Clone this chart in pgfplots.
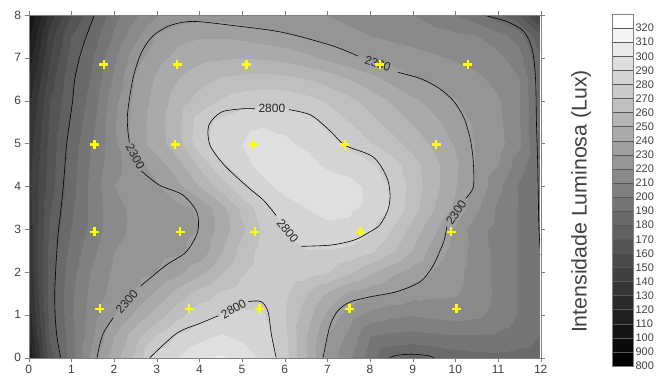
\documentclass[border=0pt]{standalone}
\usepackage{fontspec}
\setmainfont{Liberation Sans}
\usepackage{pgfplots}
\pgfplotsset{compat=1.18}
\usepackage{pgfplotstable}

\pgfplotstableread[row sep=\\]{
x y z\\
0 0 1100\\ 0.5 0 1650\\ 1 0 1950\\ 1.5 0 2250\\ 2 0 2450\\ 2.5 0 2620\\ 3 0 2860\\ 3.5 0 2900\\ 4 0 2980\\ 4.5 0 3020\\ 5 0 2960\\ 5.5 0 2880\\ 6 0 2740\\ 6.5 0 2500\\ 7 0 2270\\ 7.5 0 2120\\ 8 0 1950\\ 8.5 0 1800\\ 9 0 1780\\ 9.5 0 1800\\ 10 0 1840\\ 10.5 0 1860\\ 11 0 1870\\ 11.5 0 1860\\ 12 0 1850\\
0 0.5 1200\\ 0.5 0.5 1720\\ 1 0.5 1960\\ 1.5 0.5 2190\\ 2 0.5 2400\\ 2.5 0.5 2560\\ 3 0.5 2710\\ 3.5 0.5 2815\\ 4 0.5 2870\\ 4.5 0.5 2910\\ 5 0.5 2880\\ 5.5 0.5 2850\\ 6 0.5 2720\\ 6.5 0.5 2500\\ 7 0.5 2300\\ 7.5 0.5 2170\\ 8 0.5 2000\\ 8.5 0.5 1975\\ 9 0.5 1965\\ 9.5 0.5 1980\\ 10 0.5 1990\\ 10.5 0.5 1990\\ 11 0.5 1980\\ 11.5 0.5 1950\\ 12 0.5 1890\\
0 1 1250\\ 0.5 1 1740\\ 1 1 1980\\ 1.5 1 2160\\ 2 1 2290\\ 2.5 1 2420\\ 3 1 2550\\ 3.5 1 2670\\ 4 1 2770\\ 4.5 1 2805\\ 5 1 2820\\ 5.5 1 2810\\ 6 1 2700\\ 6.5 1 2550\\ 7 1 2380\\ 7.5 1 2250\\ 8 1 2160\\ 8.5 1 2120\\ 9 1 2105\\ 9.5 1 2120\\ 10 1 2140\\ 10.5 1 2120\\ 11 1 2060\\ 11.5 1 1990\\ 12 1 1930\\
0 1.5 1300\\ 0.5 1.5 1750\\ 1 1.5 1980\\ 1.5 1.5 2140\\ 2 1.5 2240\\ 2.5 1.5 2310\\ 3 1.5 2420\\ 3.5 1.5 2540\\ 4 1.5 2640\\ 4.5 1.5 2710\\ 5 1.5 2750\\ 5.5 1.5 2760\\ 6 1.5 2720\\ 6.5 1.5 2610\\ 7 1.5 2490\\ 7.5 1.5 2380\\ 8 1.5 2330\\ 8.5 1.5 2295\\ 9 1.5 2240\\ 9.5 1.5 2220\\ 10 1.5 2210\\ 10.5 1.5 2160\\ 11 1.5 2075\\ 11.5 1.5 1990\\ 12 1.5 1940\\
0 2 1320\\ 0.5 2 1740\\ 1 2 1960\\ 1.5 2 2120\\ 2 2 2220\\ 2.5 2 2250\\ 3 2 2300\\ 3.5 2 2370\\ 4 2 2470\\ 4.5 2 2590\\ 5 2 2690\\ 5.5 2 2750\\ 6 2 2770\\ 6.5 2 2750\\ 7 2 2710\\ 7.5 2 2620\\ 8 2 2520\\ 8.5 2 2430\\ 9 2 2350\\ 9.5 2 2290\\ 10 2 2230\\ 10.5 2 2150\\ 11 2 2070\\ 11.5 2 1990\\ 12 2 1930\\
0 2.5 1330\\ 0.5 2.5 1740\\ 1 2.5 1930\\ 1.5 2.5 2080\\ 2 2.5 2200\\ 2.5 2.5 2240\\ 3 2.5 2265\\ 3.5 2.5 2280\\ 4 2.5 2330\\ 4.5 2.5 2490\\ 5 2.5 2640\\ 5.5 2.5 2740\\ 6 2.5 2780\\ 6.5 2.5 2795\\ 7 2.5 2795\\ 7.5 2.5 2780\\ 8 2.5 2720\\ 8.5 2.5 2620\\ 9 2.5 2490\\ 9.5 2.5 2350\\ 10 2.5 2260\\ 10.5 2.5 2150\\ 11 2.5 2070\\ 11.5 2.5 1990\\ 12 2.5 1900\\
0 3 1340\\ 0.5 3 1720\\ 1 3 1900\\ 1.5 3 2040\\ 2 3 2170\\ 2.5 3 2220\\ 3 3 2245\\ 3.5 3 2275\\ 4 3 2300\\ 4.5 3 2440\\ 5 3 2580\\ 5.5 3 2720\\ 6 3 2810\\ 6.5 3 2860\\ 7 3 2885\\ 7.5 3 2880\\ 8 3 2815\\ 8.5 3 2700\\ 9 3 2560\\ 9.5 3 2420\\ 10 3 2280\\ 10.5 3 2130\\ 11 3 2070\\ 11.5 3 1990\\ 12 3 1895\\
0 3.5 1360\\ 0.5 3.5 1690\\ 1 3.5 1880\\ 1.5 3.5 2040\\ 2 3.5 2170\\ 2.5 3.5 2225\\ 3 3.5 2255\\ 3.5 3.5 2280\\ 4 3.5 2310\\ 4.5 3.5 2460\\ 5 3.5 2630\\ 5.5 3.5 2760\\ 6 3.5 2850\\ 6.5 3.5 2900\\ 7 3.5 2920\\ 7.5 3.5 2915\\ 8 3.5 2880\\ 8.5 3.5 2795\\ 9 3.5 2640\\ 9.5 3.5 2500\\ 10 3.5 2380\\ 10.5 3.5 2215\\ 11 3.5 2080\\ 11.5 3.5 1990\\ 12 3.5 1895\\
0 4 1380\\ 0.5 4 1660\\ 1 4 1860\\ 1.5 4 2050\\ 2 4 2200\\ 2.5 4 2250\\ 3 4 2290\\ 3.5 4 2380\\ 4 4 2500\\ 4.5 4 2650\\ 5 4 2770\\ 5.5 4 2870\\ 6 4 2940\\ 6.5 4 2980\\ 7 4 2970\\ 7.5 4 2940\\ 8 4 2870\\ 8.5 4 2790\\ 9 4 2660\\ 9.5 4 2530\\ 10 4 2410\\ 10.5 4 2270\\ 11 4 2125\\ 11.5 4 1985\\ 12 4 1890\\
0 4.5 1370\\ 0.5 4.5 1650\\ 1 4.5 1850\\ 1.5 4.5 2030\\ 2 4.5 2170\\ 2.5 4.5 2250\\ 3 4.5 2350\\ 3.5 4.5 2460\\ 4 4.5 2620\\ 4.5 4.5 2780\\ 5 4.5 2860\\ 5.5 4.5 2940\\ 6 4.5 2980\\ 6.5 4.5 2940\\ 7 4.5 2880\\ 7.5 4.5 2850\\ 8 4.5 2815\\ 8.5 4.5 2750\\ 9 4.5 2640\\ 9.5 4.5 2530\\ 10 4.5 2420\\ 10.5 4.5 2285\\ 11 4.5 2200\\ 11.5 4.5 2040\\ 12 4.5 1880\\
0 5 1350\\ 0.5 5 1640\\ 1 5 1840\\ 1.5 5 2010\\ 2 5 2180\\ 2.5 5 2340\\ 3 5 2450\\ 3.5 5 2570\\ 4 5 2760\\ 4.5 5 2850\\ 5 5 2900\\ 5.5 5 2950\\ 6 5 2920\\ 6.5 5 2880\\ 7 5 2840\\ 7.5 5 2780\\ 8 5 2710\\ 8.5 5 2640\\ 9 5 2560\\ 9.5 5 2480\\ 10 5 2390\\ 10.5 5 2290\\ 11 5 2235\\ 11.5 5 2120\\ 12 5 1860\\
0 5.5 1320\\ 0.5 5.5 1620\\ 1 5.5 1810\\ 1.5 5.5 1980\\ 2 5.5 2190\\ 2.5 5.5 2340\\ 3 5.5 2460\\ 3.5 5.5 2580\\ 4 5.5 2750\\ 4.5 5.5 2830\\ 5 5.5 2870\\ 5.5 5.5 2885\\ 6 5.5 2870\\ 6.5 5.5 2840\\ 7 5.5 2770\\ 7.5 5.5 2700\\ 8 5.5 2630\\ 8.5 5.5 2560\\ 9 5.5 2490\\ 9.5 5.5 2420\\ 10 5.5 2350\\ 10.5 5.5 2280\\ 11 5.5 2225\\ 11.5 5.5 2110\\ 12 5.5 1860\\
0 6 1280\\ 0.5 6 1600\\ 1 6 1790\\ 1.5 6 1950\\ 2 6 2170\\ 2.5 6 2330\\ 3 6 2440\\ 3.5 6 2550\\ 4 6 2640\\ 4.5 6 2710\\ 5 6 2755\\ 5.5 6 2775\\ 6 6 2770\\ 6.5 6 2740\\ 7 6 2690\\ 7.5 6 2630\\ 8 6 2560\\ 8.5 6 2490\\ 9 6 2420\\ 9.5 6 2360\\ 10 6 2305\\ 10.5 6 2260\\ 11 6 2210\\ 11.5 6 2105\\ 12 6 1850\\
0 6.5 1220\\ 0.5 6.5 1550\\ 1 6.5 1780\\ 1.5 6.5 1920\\ 2 6.5 2120\\ 2.5 6.5 2310\\ 3 6.5 2420\\ 3.5 6.5 2500\\ 4 6.5 2560\\ 4.5 6.5 2610\\ 5 6.5 2630\\ 5.5 6.5 2640\\ 6 6.5 2630\\ 6.5 6.5 2600\\ 7 6.5 2560\\ 7.5 6.5 2500\\ 8 6.5 2440\\ 8.5 6.5 2370\\ 9 6.5 2310\\ 9.5 6.5 2280\\ 10 6.5 2250\\ 10.5 6.5 2220\\ 11 6.5 2170\\ 11.5 6.5 2100\\ 12 6.5 1840\\
0 7 1150\\ 0.5 7 1500\\ 1 7 1740\\ 1.5 7 1900\\ 2 7 2080\\ 2.5 7 2260\\ 3 7 2370\\ 3.5 7 2430\\ 4 7 2470\\ 4.5 7 2490\\ 5 7 2500\\ 5.5 7 2490\\ 6 7 2470\\ 6.5 7 2430\\ 7 7 2380\\ 7.5 7 2330\\ 8 7 2290\\ 8.5 7 2265\\ 9 7 2240\\ 9.5 7 2215\\ 10 7 2190\\ 10.5 7 2160\\ 11 7 2130\\ 11.5 7 2040\\ 12 7 1800\\
0 7.5 1080\\ 0.5 7.5 1450\\ 1 7.5 1700\\ 1.5 7.5 1850\\ 2 7.5 2020\\ 2.5 7.5 2170\\ 3 7.5 2315\\ 3.5 7.5 2370\\ 4 7.5 2390\\ 4.5 7.5 2390\\ 5 7.5 2375\\ 5.5 7.5 2350\\ 6 7.5 2320\\ 6.5 7.5 2290\\ 7 7.5 2260\\ 7.5 7.5 2230\\ 8 7.5 2200\\ 8.5 7.5 2180\\ 9 7.5 2160\\ 9.5 7.5 2140\\ 10 7.5 2120\\ 10.5 7.5 2105\\ 11 7.5 2035\\ 11.5 7.5 1960\\ 12 7.5 1700\\
0 8 1000\\ 0.5 8 1350\\ 1 8 1600\\ 1.5 8 1790\\ 2 8 1960\\ 2.5 8 2080\\ 3 8 2190\\ 3.5 8 2240\\ 4 8 2265\\ 4.5 8 2260\\ 5 8 2240\\ 5.5 8 2225\\ 6 8 2215\\ 6.5 8 2205\\ 7 8 2200\\ 7.5 8 2170\\ 8 8 2145\\ 8.5 8 2120\\ 9 8 2100\\ 9.5 8 2050\\ 10 8 2000\\ 10.5 8 1925\\ 11 8 1840\\ 11.5 8 1700\\ 12 8 1450\\
}\field

\pgfplotstableread[row sep=\\]{
x y z\\
1.76 6.84 3600\\ 3.48 6.84 3600\\ 5.10 6.84 3600\\ 8.23 6.84 3600\\ 10.29 6.84 3600\\
1.54 4.98 3600\\ 3.43 4.98 3600\\ 5.26 4.98 3600\\ 7.41 4.98 3600\\ 9.55 4.98 3600\\
1.54 2.94 3600\\ 3.55 2.94 3600\\ 5.30 2.94 3600\\ 7.78 2.94 3600\\ 9.90 2.94 3600\\
1.67 1.14 3600\\ 3.76 1.14 3600\\ 5.41 1.14 3600\\ 7.52 1.14 3600\\ 10.03 1.14 3600\\
}\points

\definecolor{tickgray}{RGB}{64,64,64}
\definecolor{marky}{RGB}{255,255,0}

\begin{document}
\begin{tikzpicture}
\useasboundingbox (0,0) rectangle (656pt,378pt);
\begin{axis}[
  at={(28.7pt,20.3pt)}, anchor=south west,
  width=512pt, height=342.7pt, scale only axis,
  view={0}{90},
  xmin=0, xmax=12, ymin=0, ymax=8, zmin=0, zmax=4000,
  xtick={0,1,...,12}, ytick={0,1,...,8}, ztick=\empty,
  tick align=outside, major tick length=4pt,
  xtick pos=both, ytick pos=both,
  axis line style={gray}, tick style={gray},
  ticklabel style={font=\fontsize{12}{14}\selectfont, color=tickgray},
  /pgf/number format/assume math mode=true,
  colormap={surfer}{gray(0cm)=(0); gray(1cm)=(0.0417); gray(2cm)=(0.0833); gray(3cm)=(0.125); gray(4cm)=(0.1667); gray(5cm)=(0.2083); gray(6cm)=(0.25); gray(7cm)=(0.2917); gray(8cm)=(0.3333); gray(9cm)=(0.375); gray(10cm)=(0.4167); gray(11cm)=(0.4583); gray(12cm)=(0.5); gray(13cm)=(0.5417); gray(14cm)=(0.5833); gray(15cm)=(0.625); gray(16cm)=(0.6667); gray(17cm)=(0.7083); gray(18cm)=(0.75); gray(19cm)=(0.7917); gray(20cm)=(0.8333); gray(21cm)=(0.875); gray(22cm)=(0.9167); gray(23cm)=(0.9583); gray(24cm)=(1); gray(25cm)=(1)},
  colormap access=piecewise constant,
  point meta min=800, point meta max=3300,
  colorbar,
  colorbar style={
    at={(parent axis.south east)}, anchor=south west,
    xshift=62.7pt, yshift=-8.3pt,
    width=21.6pt, height=352pt, scale only axis,
    ytick={800,900,1000,1100,1200,1300,1400,1500,1600,1700,1800,1900,2000,2100,2200,2300,2400,2500,2600,2700,2800,2900,3000,3100,3200},
    yticklabels={800,900,100,110,120,130,140,150,160,170,180,190,200,210,220,230,240,250,260,270,280,290,300,310,320},
    yticklabel pos=right,
    major tick length=0pt,
    yticklabel style={font=\fontsize{11}{13}\selectfont, color=tickgray, xshift=-1.5pt},
    ymajorgrids, major grid style={black!65, line width=0.4pt},
    axis on top,
    axis line style={gray},
  },
]
\addplot3[surf, shader=interp, mesh/rows=17, mesh/cols=25] table[x=x, y=y, z=z, meta=z] {\field};

% contour 2300
\addplot3[black, line width=0.6pt, smooth] coordinates {(1.60,0,3500) (1.73,0.53,3500) (1.98,0.93,3500)};
\addplot3[black, line width=0.6pt, smooth] coordinates {(2.62,1.67,3500) (3.22,2.16,3500) (3.69,2.47,3500) (3.96,2.94,3500) (3.94,3.4,3500) (3.61,3.8,3500) (3.06,4.03,3500) (2.64,4.36,3500)};
\addplot3[black, line width=0.6pt, smooth] coordinates {(2.36,5.02,3500) (2.32,5.35,3500) (2.32,5.73,3500) (2.44,6.5,3500) (2.63,7.1,3500) (2.9,7.5,3500) (3.3,7.75,3500) (3.84,7.85,3500) (4.74,7.76,3500) (5.92,7.6,3500) (7.09,7.29,3500) (7.72,7.04,3500)};
\addplot3[black, line width=0.6pt, smooth] coordinates {(8.66,6.66,3500) (9.17,6.52,3500) (9.6,6.3,3500) (9.95,6.0,3500) (10.2,5.6,3500) (10.35,5.1,3500) (10.42,4.57,3500) (10.42,3.98,3500) (10.24,3.72,3500)};
\addplot3[black, line width=0.6pt, smooth] coordinates {(9.8,3.06,3500) (9.74,2.75,3500) (9.62,2.45,3500) (9.45,2.1,3500) (9.17,1.77,3500) (8.62,1.54,3500) (8.0,1.42,3500) (7.53,1.3,3500) (7.25,1.1,3500) (7.08,0.8,3500) (6.98,0.41,3500) (6.9,0,3500)};
% contour 2800 upper
\addplot3[black, line width=0.6pt, smooth] coordinates {(6.1,5.79,3500) (6.62,5.66,3500) (7.09,5.27,3500) (7.41,4.96,3500) (8.07,4.69,3500) (8.39,4.22,3500) (8.47,3.8,3500) (8.42,3.45,3500) (8.23,3.1,3500) (8.0,2.94,3500) (7.64,2.75,3500) (7.09,2.63,3500) (6.39,2.6,3500)};
\addplot3[black, line width=0.6pt, smooth] coordinates {(5.8,3.32,3500) (5.5,3.68,3500) (5.14,3.98,3500) (4.59,4.49,3500) (4.25,4.96,3500) (4.22,5.42,3500) (4.51,5.73,3500) (5.0,5.81,3500) (5.3,5.81,3500)};
% contour 2800 lower
\addplot3[black, line width=0.6pt, smooth] coordinates {(2.84,0,3500) (3.47,0.57,3500) (4.01,0.8,3500) (4.45,0.98,3500)};
\addplot3[black, line width=0.6pt, smooth] coordinates {(5.15,1.31,3500) (5.45,1.31,3500) (5.61,1.07,3500) (5.69,0.53,3500) (5.8,0,3500)};
% outer dark contours
\addplot3[black, line width=0.6pt, smooth] coordinates {(1.54,8,3500) (1.35,7.5,3500) (1.19,7,3500) (1.08,6.5,3500) (1.03,6,3500) (0.96,5.5,3500) (0.89,5,3500) (0.85,4.5,3500) (0.81,4,3500) (0.76,3.5,3500) (0.7,3,3500) (0.66,2.5,3500) (0.63,2,3500) (0.61,1.5,3500) (0.62,1,3500) (0.66,0.5,3500) (0.75,0,3500)};
\addplot3[black, line width=0.6pt, smooth] coordinates {(10.65,8,3500) (11.2,7.85,3500) (11.6,7.62,3500) (11.8,7.2,3500) (11.88,6.5,3500) (11.9,5.5,3500) (11.93,4.5,3500) (11.96,3.0,3500) (12,2.4,3500)};
\addplot3[black, line width=0.6pt, smooth] coordinates {(8.45,0,3500) (8.65,0.06,3500) (9.0,0.08,3500) (9.35,0.05,3500) (9.5,0,3500)};

% labels
\node[font=\fontsize{12}{14}\selectfont, text=black!85, rotate=-62] at (axis cs:2.5,4.69,3500) {2300};
\node[font=\fontsize{12}{14}\selectfont, text=black!85, rotate=49] at (axis cs:2.3,1.3,3500) {2300};
\node[font=\fontsize{12}{14}\selectfont, text=black!85, rotate=-19] at (axis cs:8.18,6.86,3500) {2300};
\node[font=\fontsize{12}{14}\selectfont, text=black!85, rotate=57] at (axis cs:10.02,3.39,3500) {2300};
\node[font=\fontsize{12}{14}\selectfont, text=black!85] at (axis cs:5.7,5.81,3500) {2800};
\node[font=\fontsize{12}{14}\selectfont, text=black!85, rotate=-51] at (axis cs:6.07,2.96,3500) {2800};
\node[font=\fontsize{12}{14}\selectfont, text=black!85, rotate=30] at (axis cs:4.8,1.14,3500) {2800};

\addplot3[only marks, mark=+, mark size=4.5pt, line width=2.4pt, color=marky] table[x=x, y=y, z=z] {\points};
\end{axis}
\node[rotate=90, font=\fontsize{21.3}{25}\selectfont, text=tickgray] at (581pt,176.5pt) {Intensidade Luminosa (Lux)};
\end{tikzpicture}
\end{document}
